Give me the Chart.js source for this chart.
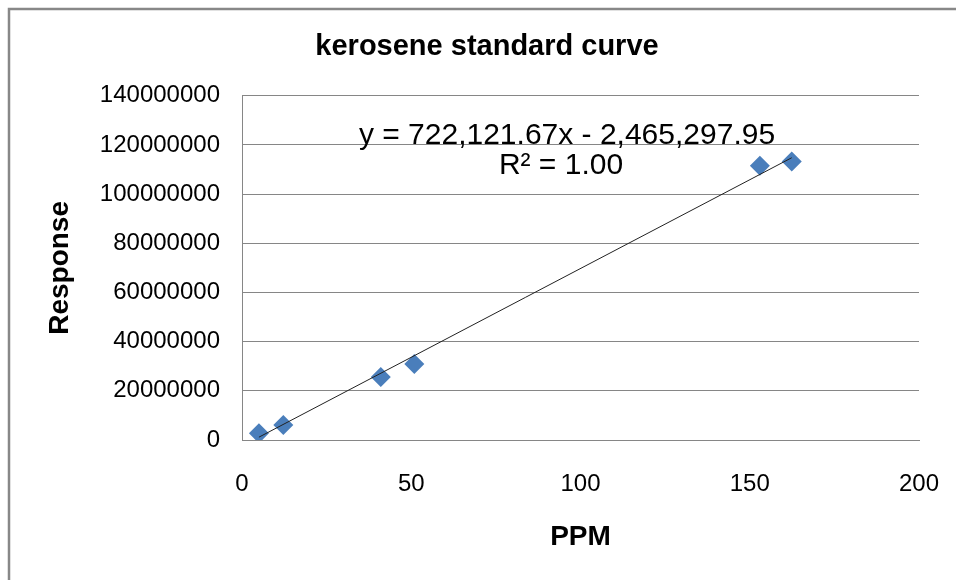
<!DOCTYPE html>
<html>
<head>
<meta charset="utf-8">
<script src="https://cdn.jsdelivr.net/npm/chart.js@4"></script>
<style>
  body { margin: 0; background: #fff; }
  #wrap { width: 956px; height: 580px; }
</style>
</head>
<body>
<div id="wrap"><canvas id="chart" width="956" height="580"></canvas></div>
<script>
// values
const ppm = [5, 12.2, 41, 50.9, 153, 162.4];
const response = [2.7e6, 6.1e6, 25.6e6, 30.9e6, 111.5e6, 113.3e6];

// trendline as printed on the chart
const slope = 722121.67;
const intercept = -2465297.95;
const eqText = 'y = 722,121.67x - 2,465,297.95';
const r2Text = 'R\u00b2 = 1.00';

const font = '"Liberation Sans", Arial, sans-serif';

const points = ppm.map((x, i) => ({ x: x, y: response[i] }));
const xMin = Math.min(...ppm);
const xMax = Math.max(...ppm);
const trend = [
    { x: xMin, y: slope * xMin + intercept },
    { x: xMax, y: slope * xMax + intercept }
];

// white page + the grey frame that is cut off at right and bottom
const frame = {
    id: 'frame',
    beforeDraw(chart) {
        const c = chart.ctx;
        c.save();
        c.fillStyle = '#fff';
        c.fillRect(0, 0, chart.width, chart.height);
        c.strokeStyle = '#888';
        c.lineWidth = 2.5;
        c.strokeRect(9, 9, 2000, 2000);
        c.restore();
    }
};

// equation label of the trendline
const eqLabel = {
    id: 'eqLabel',
    afterDatasetsDraw(chart) {
        const c = chart.ctx;
        c.save();
        c.fillStyle = '#000';
        c.font = '30px ' + font;
        c.textAlign = 'center';
        c.textBaseline = 'alphabetic';
        c.fillText(eqText, 567, 144);
        c.fillText(r2Text, 561, 174);
        c.restore();
    }
};

new Chart(document.getElementById('chart'), {
    type: 'scatter',
    data: {
        datasets: [{
            label: 'Response',
            data: points,
            pointStyle: 'rectRot',
            pointRadius: 10,
            pointHoverRadius: 10,
            backgroundColor: '#4a7ebb',
            borderColor: '#4a7ebb',
            borderWidth: 0,
            order: 2
        }, {
            type: 'line',
            label: 'trend',
            data: trend,
            borderColor: '#222',
            borderWidth: 1,
            pointRadius: 0,
            fill: false,
            order: 1
        }]
    },
    options: {
        responsive: false,
        animation: false,
        devicePixelRatio: 1,
        layout: { padding: { left: 42, right: 24, top: 0, bottom: 0 } },
        plugins: {
            legend: { display: false },
            tooltip: { enabled: false },
            title: {
                display: true,
                text: 'kerosene standard curve',
                color: '#000',
                font: { family: font, size: 29, weight: 'bold' },
                padding: { top: 30, bottom: 31 }
            }
        },
        scales: {
            x: {
                type: 'linear',
                min: 0,
                max: 200,
                ticks: {
                    stepSize: 50,
                    color: '#000',
                    padding: 30,
                    font: { family: font, size: 24 }
                },
                grid: { display: false, drawTicks: false },
                border: { display: true, color: '#868686', width: 1 },
                title: {
                    display: true,
                    text: 'PPM',
                    color: '#000',
                    font: { family: font, size: 28, weight: 'bold' },
                    padding: { top: 0, bottom: 26 }
                },
                afterFit(scale) {
                    scale.height = 140;
                    scale.paddingLeft = 0;
                    scale.paddingRight = 37;
                }
            },
            y: {
                min: 0,
                max: 140000000,
                ticks: {
                    stepSize: 20000000,
                    color: '#000',
                    padding: 22,
                    font: { family: font, size: 24 },
                    callback: (v) => String(v)
                },
                grid: { color: '#868686', drawTicks: false },
                border: { display: true, color: '#868686', width: 1 },
                title: {
                    display: true,
                    text: 'Response',
                    color: '#000',
                    font: { family: font, size: 28, weight: 'bold' },
                    padding: { top: 1, bottom: 0 }
                },
                afterFit(scale) { scale.width = 200; }
            }
        }
    },
    plugins: [frame, eqLabel]
});
</script>
</body>
</html>
